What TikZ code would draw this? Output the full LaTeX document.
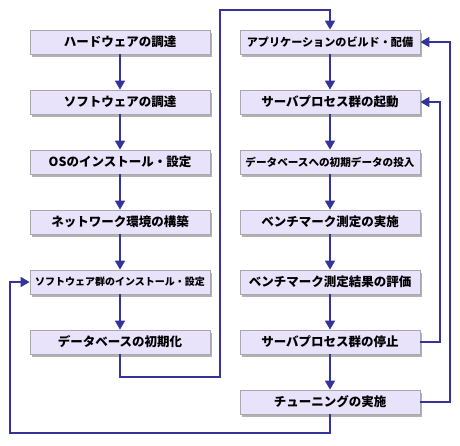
\documentclass[tikz,border=0pt]{standalone}
\usepackage{fontspec}
\setmainfont{Noto Sans CJK JP}
\usetikzlibrary{arrows.meta,shadows}
\definecolor{boxfill}{HTML}{E8E2FA}
\definecolor{boxline}{HTML}{A8A8B0}
\definecolor{flow}{HTML}{333399}
\tikzset{
  stepbox/.style={draw=boxline, line width=0.8pt, fill=boxfill, minimum width=180pt, minimum height=24pt,
    inner sep=0pt, font=\bfseries\fontsize{12.5}{14}\selectfont,
    drop shadow={shadow xshift=2pt, shadow yshift=-3pt, fill=black, opacity=0.3}},
  flowline/.style={draw=flow, line width=1.6pt},
  flowarrow/.style={flowline, -{Triangle[length=9pt,width=10pt]}}
}
\begin{document}
\begin{tikzpicture}[x=1pt,y=-1pt]
\useasboundingbox (0,0) rectangle (460,445);
\node[stepbox] (L1) at (120,42) {ハードウェアの調達};
\node[stepbox] (L2) at (120,102) {ソフトウェアの調達};
\node[stepbox] (L3) at (120,162) {OSのインストール・設定};
\node[stepbox] (L4) at (120,222) {ネットワーク環境の構築};
\node[stepbox, font=\bfseries\fontsize{10}{12}\selectfont] (L5) at (120,282) {ソフトウェア群のインストール・設定};
\node[stepbox] (L6) at (120,342) {データベースの初期化};
\node[stepbox, font=\bfseries\fontsize{11.1}{13}\selectfont] (R1) at (330,42) {アプリケーションのビルド・配備};
\node[stepbox] (R2) at (330,102) {サーバプロセス群の起動};
\node[stepbox, font=\bfseries\fontsize{10.6}{12}\selectfont] (R3) at (330,162) {データベースへの初期データの投入};
\node[stepbox] (R4) at (330,222) {ベンチマーク測定の実施};
\node[stepbox] (R5) at (330,282) {ベンチマーク測定結果の評価};
\node[stepbox] (R6) at (330,342) {サーバプロセス群の停止};
\node[stepbox] (R7) at (330,402) {チューニングの実施};
\coordinate (a1) at (220,377);
\coordinate (a2) at (220,10);
\coordinate (b1) at (10,433);
\coordinate (c1) at (440,220);
\coordinate (c2) at (450,220);
\foreach \i/\j in {L1/L2,L2/L3,L3/L4,L4/L5,L5/L6,R1/R2,R2/R3,R3/R4,R4/R5,R5/R6,R6/R7}
  \draw[flowarrow] (\i.south) -- (\j.north);
\draw[flowarrow] (L6.south) |- (a1) -- (a2) -| (R1.north);
\draw[flowarrow] (R7.south) |- (b1) |- (L5.west);
\draw[flowarrow] (R6.east) -| (c1) |- (R2.east);
\draw[flowarrow] (R7.east) -| (c2) |- (R1.east);
\end{tikzpicture}
\end{document}
